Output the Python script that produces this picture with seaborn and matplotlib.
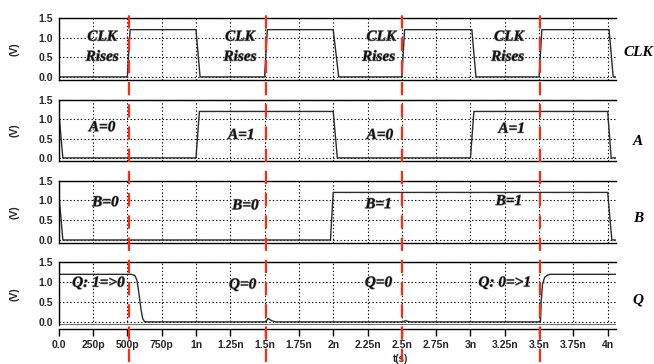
import seaborn as sns
import matplotlib.pyplot as plt
import matplotlib.patheffects as pe
import pandas as pd

# --- waveform data (time in ns, voltage in V) ---
clk_t = [0, 0.50, 0.52, 1.0, 1.03, 1.50, 1.52, 2.0, 2.04, 2.50, 2.52, 3.01, 3.04, 3.50, 3.52, 4.01, 4.04, 4.06]
clk_v = [0, 0, 1.2, 1.2, 0, 0, 1.2, 1.2, 0, 0, 1.2, 1.2, 0, 0, 1.2, 1.2, 0, 0]

a_t = [0, 0.03, 1.0, 1.025, 2.0, 2.03, 3.0, 3.025, 4.0, 4.025, 4.06]
a_v = [1.2, 0, 0, 1.2, 1.2, 0, 0, 1.2, 1.2, 0, 0]

b_t = [0, 0.03, 1.98, 2.0, 4.0, 4.03, 4.06]
b_v = [1.2, 0, 0, 1.2, 1.2, 0, 0]

q_t = [0, 0.53, 0.555, 0.57, 0.585, 0.60, 0.612, 0.625, 0.645, 1.51, 1.525, 1.55, 1.58,
       2.51, 2.525, 2.56, 3.51, 3.515, 3.525, 3.54, 3.56, 3.58, 4.06]
q_v = [1.2, 1.2, 1.17, 1.05, 0.7, 0.3, 0.08, 0.01, 0, 0, 0.09, 0.03, 0,
       0, 0.03, 0, 0, 0.5, 0.95, 1.12, 1.18, 1.2, 1.2]

# clock edges marked with red dashes
edges = [0.515, 1.51, 2.50, 3.51]

# x ticks
tick_pos = [0, 0.25, 0.5, 0.75, 1.0, 1.25, 1.5, 1.75, 2.0, 2.25, 2.5, 2.75, 3.0, 3.25, 3.5, 3.75, 4.0]
tick_lab = ['0.0', '250p', '500p', '750p', '1n', '1.25n', '1.5n', '1.75n', '2n',
            '2.25n', '2.5n', '2.75n', '3n', '3.25n', '3.5n', '3.75n', '4n']

signal_names = ['CLK', 'A', 'B', 'Q']
# inner annotations: (t, V, text)
notes = {
    'CLK': [(0.316, 1.01, 'CLK'), (0.316, 0.50, 'Rises'),
            (1.32, 1.01, 'CLK'), (1.32, 0.50, 'Rises'),
            (2.35, 1.01, 'CLK'), (2.33, 0.50, 'Rises'),
            (3.28, 1.01, 'CLK'), (3.27, 0.50, 'Rises')],
    'A': [(0.316, 0.78, 'A=0'), (1.33, 0.58, 'A=1'), (2.34, 0.58, 'A=0'), (3.30, 0.74, 'A=1')],
    'B': [(0.34, 0.94, 'B=0'), (1.36, 0.86, 'B=0'), (2.33, 0.89, 'B=1'), (3.28, 0.97, 'B=1')],
    'Q': [(0.29, 0.975, 'Q: 1=>0'), (1.34, 0.93, 'Q=0'), (2.33, 0.98, 'Q=0'), (3.25, 0.98, 'Q: 0=>1')],
}
right_y = {'CLK': 0.445, 'A': 0.32, 'B': 0.40, 'Q': 0.40}

waves = {'CLK': (clk_t, clk_v), 'A': (a_t, a_v), 'B': (b_t, b_v), 'Q': (q_t, q_v)}

sns.set_theme(style="white")
plt.rcParams['font.family'] = ['Liberation Sans', 'DejaVu Sans']

fig = plt.figure(figsize=(6.54, 3.64), dpi=100)
left, width = 0.0898, 0.852
bottoms = [0.780, 0.5577, 0.332, 0.107]
heights = [0.171, 0.168, 0.172, 0.172]

serif_bi = dict(family='Liberation Serif', weight='bold', style='italic', fontsize=11)
glow = [pe.withStroke(linewidth=0.8, foreground='#a0a0a0')]

axes = []
for i, name in enumerate(signal_names):
    ax = fig.add_axes([left, bottoms[i], width, heights[i]])
    t, v = waves[name]
    df = pd.DataFrame({'t': t, 'v': v})
    sns.lineplot(data=df, x='t', y='v', ax=ax, sort=False, estimator=None,
                 color='#2b2b2b', linewidth=1.0)
    ax.set_xlim(0, 4.06)
    ax.set_ylim(-0.08, 1.5)
    ax.set_xticks(tick_pos)
    ax.set_yticks([0, 0.5, 1.0, 1.5])
    ax.set_yticklabels(['0.0', '0.5', '1.0', '1.5'], fontsize=7.5, fontweight='bold')
    ax.grid(True, color='black', linestyle=(0, (1.2, 2.0)), linewidth=0.8)
    ax.tick_params(axis='y', length=0, pad=4)
    ax.spines['right'].set_visible(False)
    for s in ['left', 'top', 'bottom']:
        ax.spines[s].set_color('black')
        ax.spines[s].set_linewidth(1.0)
    ax.set_ylabel('(V)', fontsize=7.5, fontweight='bold')
    ax.yaxis.set_label_coords(-0.071, 0.5)
    ax.set_xlabel('')
    for (xt, yt, txt) in notes[name]:
        ax.text(xt, yt, txt, ha='center', va='center', color='#111111',
                path_effects=glow, **serif_bi)
    ax.text(1.04, right_y[name], name, transform=ax.transAxes, ha='center', va='center',
            color='black', **serif_bi)
    if i < 3:
        ax.tick_params(axis='x', length=0, labelbottom=False)
    axes.append(ax)

# bottom panel gets the time axis, slightly detached
ax4 = axes[-1]
ax4.spines['bottom'].set_position(('outward', 3))
ax4.axhline(-0.08, color='#555555', linewidth=1.2)
ax4.set_xticklabels(tick_lab, fontsize=7.5, fontweight='bold')
ax4.tick_params(axis='x', direction='out', length=5, width=1.0, color='black', pad=3, bottom=True)
ax4.set_xlabel('t(s)', fontsize=7, fontweight='bold')
ax4.xaxis.set_label_coords(0.614, -0.47)

# overlay for the red dashed clock-edge markers spanning all panels
over = fig.add_axes([left, 0.0055, width, 0.9585])
over.set_xlim(0, 4.06)
over.set_ylim(0, 1)
over.axis('off')
over.patch.set_alpha(0)
for e in edges:
    over.axvline(e, color='#ff2a10', linestyle=(0, (6, 4)), linewidth=1.6)

fig.savefig('out.png', dpi=100)
